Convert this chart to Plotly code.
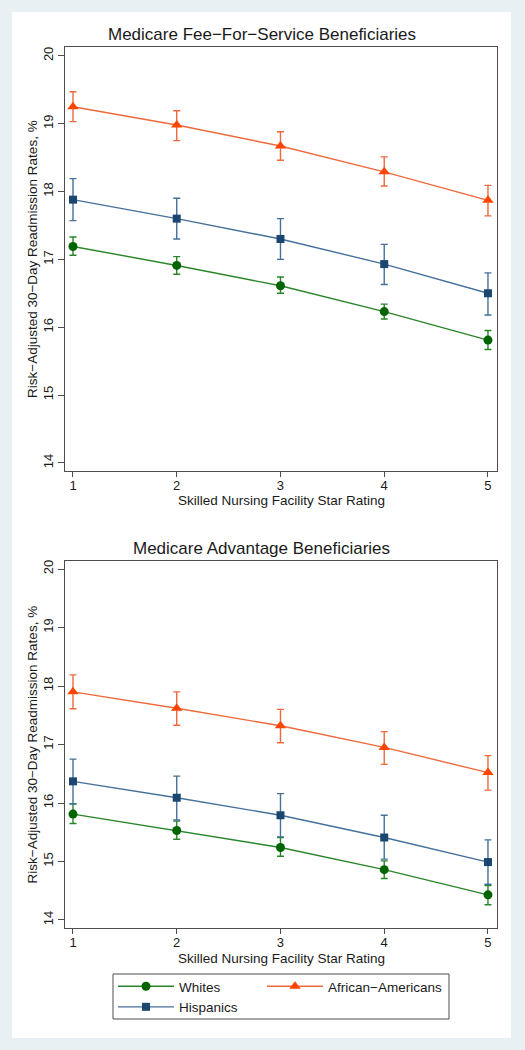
import plotly.graph_objects as go

W, H = 525, 1050

stars = [1, 2, 3, 4, 5]
star_labels = ["1", "2", "3", "4", "5"]
y_ticks = [14, 15, 16, 17, 18, 19, 20]

series_names = ["Whites", "African\u2212Americans", "Hispanics"]

# Medicare Fee-For-Service
whites_ffs = [17.19, 16.91, 16.61, 16.23, 15.81]
whites_ffs_lo = [17.06, 16.78, 16.50, 16.12, 15.67]
whites_ffs_hi = [17.33, 17.04, 16.74, 16.34, 15.95]
aa_ffs = [19.25, 18.98, 18.67, 18.29, 17.87]
aa_ffs_lo = [19.03, 18.75, 18.46, 18.08, 17.64]
aa_ffs_hi = [19.47, 19.19, 18.88, 18.51, 18.09]
hisp_ffs = [17.88, 17.60, 17.30, 16.93, 16.50]
hisp_ffs_lo = [17.57, 17.30, 17.00, 16.63, 16.18]
hisp_ffs_hi = [18.19, 17.90, 17.60, 17.22, 16.80]

# Medicare Advantage
whites_ma = [15.81, 15.53, 15.24, 14.86, 14.43]
whites_ma_lo = [15.65, 15.38, 15.09, 14.71, 14.26]
whites_ma_hi = [15.99, 15.69, 15.41, 15.01, 14.59]
aa_ma = [17.90, 17.62, 17.32, 16.95, 16.52]
aa_ma_lo = [17.61, 17.33, 17.03, 16.66, 16.22]
aa_ma_hi = [18.19, 17.90, 17.60, 17.22, 16.81]
hisp_ma = [16.37, 16.09, 15.79, 15.41, 14.99]
hisp_ma_lo = [15.98, 15.71, 15.42, 15.04, 14.61]
hisp_ma_hi = [16.75, 16.46, 16.16, 15.79, 15.37]

FONT = "Liberation Sans, Arial, Helvetica, sans-serif"
TXT = "#1a1a1a"
AX = "#4d4d4d"

styles = {
    "Whites": dict(mc="#006400", lc="#2a852a", sym="circle", size=9),
    "African\u2212Americans": dict(mc="#ff4500", lc="#ee6a3c", sym="triangle-up", size=10),
    "Hispanics": dict(mc="#1a476f", lc="#45709a", sym="square", size=8),
}

def px(x):
    return x / W

def py(y):
    return 1 - y / H

fig = go.Figure()

panels = [
    ("x", "y", [(whites_ffs, whites_ffs_lo, whites_ffs_hi),
                (aa_ffs, aa_ffs_lo, aa_ffs_hi),
                (hisp_ffs, hisp_ffs_lo, hisp_ffs_hi)], True),
    ("x2", "y2", [(whites_ma, whites_ma_lo, whites_ma_hi),
                  (aa_ma, aa_ma_lo, aa_ma_hi),
                  (hisp_ma, hisp_ma_lo, hisp_ma_hi)], False),
]

for xa, ya, data, show in panels:
    for name, (v, lo, hi) in zip(series_names, data):
        st = styles[name]
        fig.add_trace(go.Scatter(
            x=stars, y=v, name=name, xaxis=xa, yaxis=ya,
            mode="lines+markers",
            line=dict(color=st["lc"], width=1.4),
            marker=dict(color=st["mc"], symbol=st["sym"], size=st["size"]),
            error_y=dict(type="data", symmetric=False,
                         array=[h - c for h, c in zip(hi, v)],
                         arrayminus=[c - l for c, l in zip(v, lo)],
                         color=st["lc"], thickness=1.4, width=3.5),
            showlegend=show,
            legend="legend2" if name.startswith("African") else "legend",
        ))

xr = [0.923, 5.087]
common_x = dict(range=xr, tickvals=stars, ticktext=star_labels, ticks="outside",
                ticklen=5, tickcolor=AX, showline=True, linecolor=AX, linewidth=1,
                mirror=True, showgrid=False, zeroline=False, ticklabelstandoff=-3,
                tickfont=dict(family=FONT, size=13, color=TXT))
common_y = dict(tickvals=y_ticks, ticks="outside", ticklen=6, tickcolor=AX,
                showline=True, linecolor=AX, linewidth=1, mirror=True,
                showgrid=False, zeroline=False, tickangle=-90,
                tickfont=dict(family=FONT, size=13, color=TXT))

fig.update_layout(
    width=W, height=H,
    margin=dict(l=0, r=0, t=0, b=0),
    paper_bgcolor="#e8f0f3",
    plot_bgcolor="white",
    font=dict(family=FONT, color=TXT),
    xaxis=dict(domain=[px(65), px(497)], anchor="y", **common_x),
    yaxis=dict(domain=[py(471), py(47)], anchor="x", range=[13.88, 20.13], **common_y),
    xaxis2=dict(domain=[px(65), px(497)], anchor="y2", **common_x),
    yaxis2=dict(domain=[py(928), py(561)], anchor="x2", range=[13.863, 20.137], **common_y),
    legend=dict(x=px(113), y=py(971), xanchor="left", yanchor="top",
                orientation="v", bgcolor="rgba(0,0,0,0)", borderwidth=0,
                itemwidth=56, font=dict(family=FONT, size=13.5, color=TXT),
                tracegroupgap=0),
    legend2=dict(x=px(262), y=py(971), xanchor="left", yanchor="top",
                 orientation="v", bgcolor="rgba(0,0,0,0)", borderwidth=0,
                 itemwidth=56, font=dict(family=FONT, size=13.5, color=TXT)),
    shapes=[
        dict(type="rect", xref="paper", yref="paper", layer="below",
             x0=px(12), x1=px(511), y0=py(1038), y1=py(12),
             fillcolor="white", line=dict(width=0)),
        dict(type="rect", xref="paper", yref="paper",
             x0=px(113), x1=px(449), y0=py(1019), y1=py(974),
             fillcolor="rgba(0,0,0,0)", line=dict(color=AX, width=1)),
    ],
    annotations=[
        dict(text="Medicare Fee\u2212For\u2212Service Beneficiaries", x=px(261.5), y=py(34),
             xref="paper", yref="paper", showarrow=False, xanchor="center", yanchor="middle",
             font=dict(family=FONT, size=17, color=TXT)),
        dict(text="Medicare Advantage Beneficiaries", x=px(261.5), y=py(548),
             xref="paper", yref="paper", showarrow=False, xanchor="center", yanchor="middle",
             font=dict(family=FONT, size=17, color=TXT)),
        dict(text="Skilled Nursing Facility Star Rating", x=px(281), y=py(501),
             xref="paper", yref="paper", showarrow=False, xanchor="center", yanchor="middle",
             font=dict(family=FONT, size=13.5, color=TXT)),
        dict(text="Skilled Nursing Facility Star Rating", x=px(281), y=py(958),
             xref="paper", yref="paper", showarrow=False, xanchor="center", yanchor="middle",
             font=dict(family=FONT, size=13.5, color=TXT)),
        dict(text="Risk\u2212Adjusted 30\u2212Day Readmission Rates, %", x=px(32), y=py(259),
             xref="paper", yref="paper", showarrow=False, xanchor="center", yanchor="middle",
             textangle=-90, font=dict(family=FONT, size=13.5, color=TXT)),
        dict(text="Risk\u2212Adjusted 30\u2212Day Readmission Rates, %", x=px(32), y=py(744.5),
             xref="paper", yref="paper", showarrow=False, xanchor="center", yanchor="middle",
             textangle=-90, font=dict(family=FONT, size=13.5, color=TXT)),
    ],
)

fig.write_html("out.html", config={"displayModeBar": False},
               post_script="document.body.style.margin='0px';document.body.style.padding='0px';document.body.style.overflow='hidden';")
